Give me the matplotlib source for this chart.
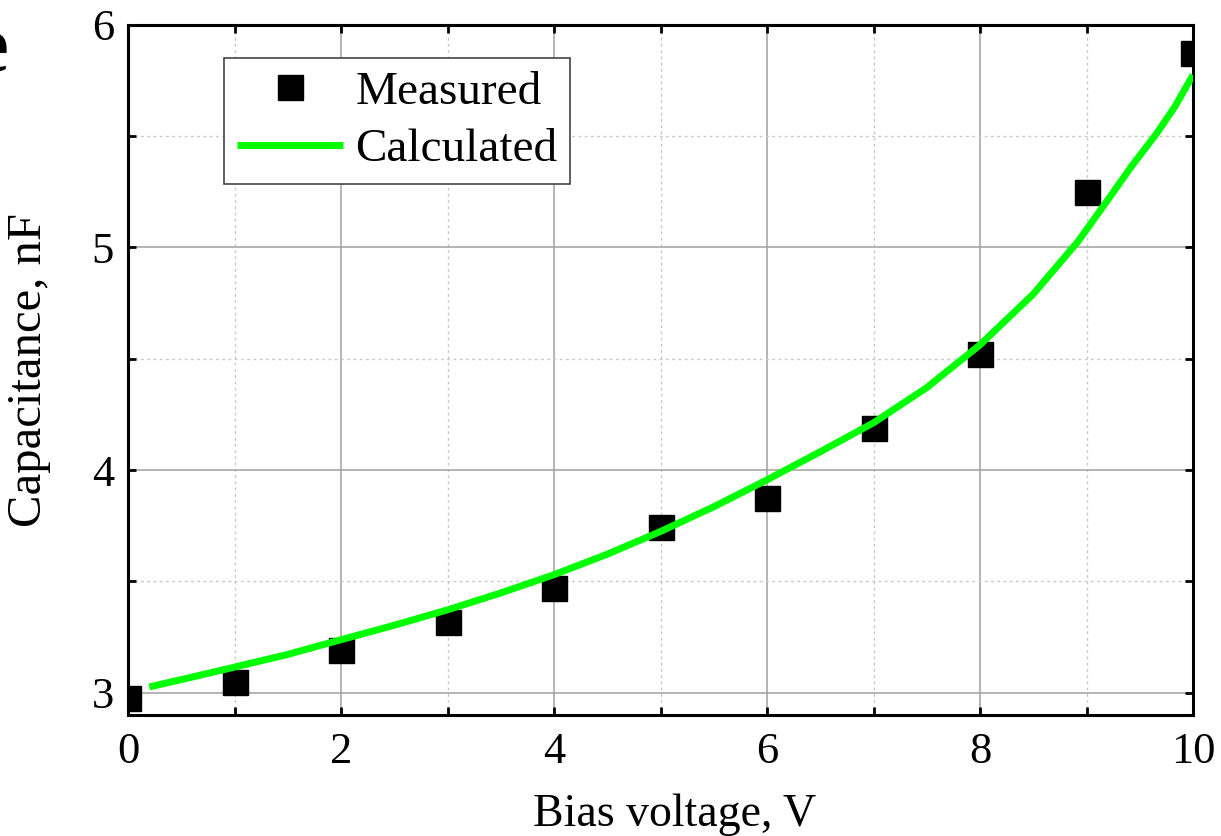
import matplotlib
matplotlib.use("Agg")
import matplotlib.pyplot as plt
from matplotlib.ticker import MultipleLocator

plt.rcParams['font.family'] = ['Liberation Serif', 'DejaVu Serif']

# Measured data
meas_v = [0, 1, 2, 3, 4, 5, 6, 7, 8, 9, 10]
meas_c = [2.976, 3.049, 3.193, 3.317, 3.47, 3.746, 3.873, 4.188, 4.521, 5.25, 5.871]

# Calculated curve
calc_v = [0.2, 0.6, 1, 1.5, 2, 2.5, 3, 3.5, 4, 4.5, 5, 5.5, 6, 6.5, 7, 7.5, 8,
          8.5, 8.92, 9.2, 9.42, 9.66, 9.83, 10]
calc_c = [3.026, 3.07, 3.115, 3.172, 3.238, 3.303, 3.372, 3.448, 3.53, 3.622, 3.724,
          3.835, 3.956, 4.082, 4.212, 4.37, 4.562, 4.79, 5.026, 5.213, 5.362, 5.512,
          5.632, 5.774]

fig = plt.figure(figsize=(12.21, 8.36), dpi=100)
ax = fig.add_axes([128/1221, 1-715/836, (1193-128)/1221, (715-24.6)/836])

ax.plot(meas_v, meas_c, linestyle='none', marker='s', markersize=18,
        color='black', label='Measured', zorder=3)
ax.plot(calc_v, calc_c, color='#00ff00', lw=5, label='Calculated', zorder=4,
        solid_joinstyle='round', solid_capstyle='butt')

ax.set_xlim(0, 10)
ax.set_ylim(2.9, 6.0)
ax.xaxis.set_major_locator(MultipleLocator(2))
ax.xaxis.set_minor_locator(MultipleLocator(1))
ax.yaxis.set_major_locator(MultipleLocator(1))
ax.yaxis.set_minor_locator(MultipleLocator(0.5))

ax.grid(which='major', color='#a0a0a0', lw=1.1, ls='-', zorder=0)
ax.grid(which='minor', color='#c8c8c8', lw=1.0, ls=(0, (2, 2.5)), zorder=0)
ax.set_axisbelow(True)

for s in ax.spines.values():
    s.set_linewidth(2.2)
    s.set_color('black')

ax.tick_params(which='both', direction='in', top=True, right=True,
               length=6, width=2, labelsize=32, color='black')
ax.tick_params(axis='x', which='major', pad=12)
ax.tick_params(axis='y', which='major', pad=10)

ax.set_xlabel('Bias voltage, V', fontsize=33)
ax.set_ylabel('Capacitance, nF', fontsize=35)
ax.xaxis.set_label_coords(0.513, -0.113)
ax.yaxis.set_label_coords(-0.072, 0.5)

leg = ax.legend(loc='upper left', bbox_to_anchor=(0.090, 0.952), borderaxespad=0,
                fontsize=34, frameon=True, fancybox=False, handlelength=2.25,
                handletextpad=0.25, borderpad=0.28, labelspacing=0.3,
                markerscale=1.0)
leg.get_frame().set_edgecolor('#444444')
leg.get_frame().set_linewidth(1.2)
leg.get_frame().set_alpha(1)

fig.text(8/1221, 1-52/836, 'e', fontsize=58, fontweight='bold', ha='right', va='center')

fig.savefig('out.png', dpi=100)
